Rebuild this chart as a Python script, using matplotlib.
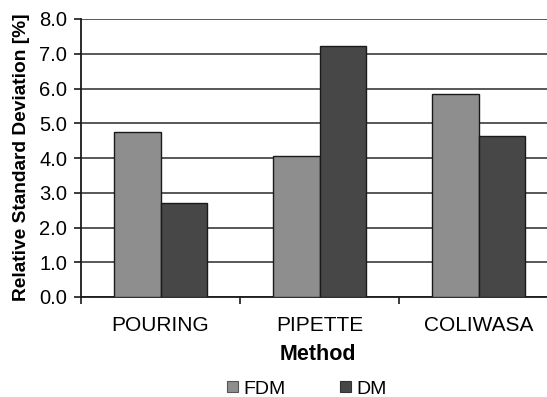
import matplotlib
matplotlib.use("Agg")
import matplotlib.pyplot as plt
import numpy as np
from matplotlib.patches import Patch

categories = ["POURING", "PIPETTE", "COLIWASA"]
fdm = [4.74, 4.06, 5.83]
dm = [2.70, 7.22, 4.64]
series_names = ["FDM", "DM"]
yticks = [0.0, 1.0, 2.0, 3.0, 4.0, 5.0, 6.0, 7.0, 8.0]

plt.rcParams['font.family'] = ['Liberation Sans', 'DejaVu Sans']

fig = plt.figure(figsize=(5.47, 3.97), dpi=100)
W, H = 547, 397
left, right, top, bottom = 81, 558, 19, 297
ax = fig.add_axes([left / W, 1 - bottom / H, (right - left) / W, (bottom - top) / H])

x = np.arange(len(categories))
bw = 0.29
c_fdm = "#8e8e8e"
c_dm = "#474747"
ax.bar(x - bw / 2, fdm, bw, color=c_fdm, edgecolor="#1a1a1a", linewidth=1.0, zorder=3)
ax.bar(x + bw / 2, dm, bw, color=c_dm, edgecolor="#1a1a1a", linewidth=1.0, zorder=3)

ax.set_xlim(-0.5, 2.5)
ax.set_ylim(0, 8)
ax.set_yticks(yticks)
ax.set_yticklabels([f"{v:.1f}" for v in yticks], fontsize=14.5)
ax.yaxis.grid(True, color="#2a2a2a", linewidth=1.1, zorder=0)
ax.set_axisbelow(True)

ax.set_xticks([-0.5, 0.5, 1.5, 2.5])
ax.set_xticklabels([])
ax.set_xticks(x, minor=True)
ax.set_xticklabels(categories, minor=True, fontsize=15)
ax.tick_params(axis='x', which='minor', length=0, pad=14)
ax.tick_params(axis='x', which='major', length=5, width=1.2, direction='out', color='#1a1a1a')
ax.tick_params(axis='y', length=5, width=1.2, direction='out', pad=5, color='#1a1a1a')

for s in ['top', 'right']:
    ax.spines[s].set_visible(False)
for s in ['left', 'bottom']:
    ax.spines[s].set_color('#1a1a1a')
    ax.spines[s].set_linewidth(1.3)

fig.text(22 / W, 1 - 157 / H, "Relative Standard Deviation [%]", rotation=90,
         ha='center', va='center', fontsize=13.8, fontweight='bold')
fig.text(318 / W, 1 - 355 / H, "Method", ha='center', va='center',
         fontsize=15.5, fontweight='bold')

handles = [Patch(facecolor=c_fdm, edgecolor='#555555', linewidth=0.8),
           Patch(facecolor=c_dm, edgecolor='#333333', linewidth=0.8)]
fig.legend(handles, series_names, loc='center', bbox_to_anchor=(307 / W, 1 - 389 / H),
           ncol=2, frameon=False, fontsize=14, handlelength=0.55, handleheight=0.55,
           handletextpad=0.3, columnspacing=2.8, borderpad=0)

fig.savefig("out.png", dpi=100)
